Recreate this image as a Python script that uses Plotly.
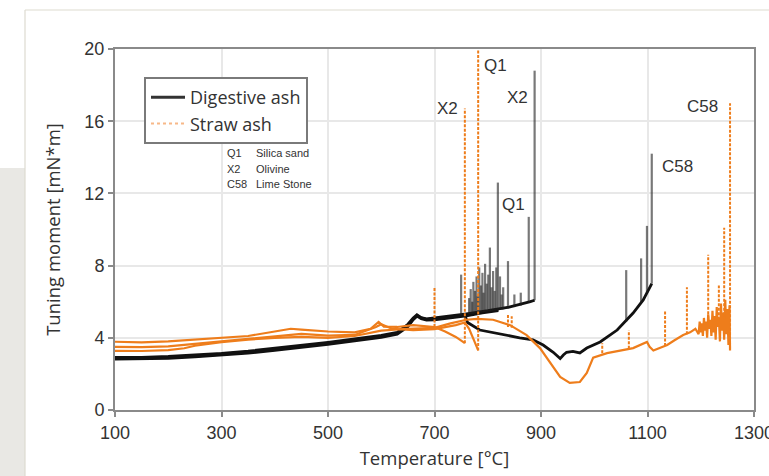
import plotly.graph_objects as go

# ---------------- data ----------------
# Digestive ash, X2 run (heating to ~888 °C)
dig_x2_T = [100, 150, 200, 250, 300, 350, 400, 450, 500, 550, 600, 630, 650, 660, 667, 675,
            685, 700, 730, 760, 800, 840, 880, 888]
dig_x2_v = [2.92, 2.92, 2.97, 3.05, 3.14, 3.26, 3.41, 3.57, 3.75, 3.94, 4.13, 4.3, 4.75, 5.1, 5.28, 5.12,
            5.05, 5.1, 5.2, 5.33, 5.5, 5.7, 6.0, 6.08]
# Digestive ash, Q1 run (heating to ~820 °C)
dig_q1_T = [100, 150, 200, 250, 300, 350, 400, 450, 500, 550, 600, 630, 650, 660, 667, 675,
            685, 700, 730, 760, 790, 820]
dig_q1_v = [2.82, 2.82, 2.86, 2.94, 3.03, 3.15, 3.3, 3.46, 3.64, 3.83, 4.03, 4.2, 4.62, 5.0, 5.2, 5.06,
            4.98, 5.0, 5.1, 5.22, 5.38, 5.5]
# Digestive ash, C58 run (heating, cooling dip, up to ~1108 °C)
dig_c58_T = [100, 150, 200, 250, 300, 350, 400, 450, 500, 550, 600, 630, 650, 660, 667, 675,
             685, 700, 730, 757, 762, 785, 823, 860, 885, 904, 923, 930, 936, 942, 948, 960,
             973, 986, 1011, 1043, 1073, 1092, 1105, 1108]
dig_c58_v = [2.87, 2.87, 2.91, 2.99, 3.09, 3.2, 3.35, 3.52, 3.7, 3.88, 4.08, 4.25, 4.68, 5.05, 5.24, 5.1,
             5.02, 5.05, 5.15, 5.26, 4.85, 4.43, 4.2, 4.0, 3.88, 3.6, 3.2, 3.0, 2.85, 3.05, 3.2, 3.25,
             3.16, 3.43, 3.77, 4.43, 5.37, 6.1, 6.8, 7.0]
# Digestive ash: spikes (temperature, base, peak)
dig_spk_T = [750, 765, 768, 771, 773, 776, 779, 781, 784, 787, 790, 792, 795, 798, 801, 804, 807,
             810, 813, 816, 819, 823, 826, 829, 838, 850, 862, 877, 888, 1060, 1088, 1099, 1108]
dig_spk_base = [5.25, 5.3, 5.3, 5.32, 5.33, 5.35, 5.36, 5.37, 5.38, 5.4, 5.41, 5.42, 5.43, 5.44,
                5.46, 5.47, 5.48, 5.5, 5.51, 5.52, 5.5, 5.55, 5.56, 5.57, 5.62, 5.7, 5.78, 5.95,
                6.08, 4.9, 5.95, 6.5, 7.0]
dig_spk_peak = [7.5, 6.2, 6.7, 6.0, 7.1, 6.6, 7.4, 6.3, 7.9, 6.9, 7.6, 6.5, 8.1, 7.0, 7.5, 9.0, 6.8,
                7.7, 6.6, 7.9, 12.6, 7.4, 6.4, 6.8, 8.25, 6.4, 6.5, 10.7, 18.8, 7.75, 8.4, 10.2, 14.2]

# Straw ash, X2 run (ends ~757 °C)
str_x2_T = [100, 150, 200, 250, 300, 350, 400, 430, 450, 500, 550, 580, 595, 605, 630, 660,
            700, 720, 740, 754, 757]
str_x2_v = [3.78, 3.75, 3.8, 3.9, 4.0, 4.1, 4.35, 4.5, 4.45, 4.35, 4.3, 4.5, 4.88, 4.62, 4.6, 4.7,
            4.6, 4.35, 4.05, 3.8, 3.7]
# Straw ash, Q1 run (ends ~782 °C)
str_q1_T = [100, 150, 200, 250, 300, 350, 400, 450, 500, 550, 590, 600, 620, 660, 700, 740,
            757, 765, 775, 782]
str_q1_v = [3.5, 3.48, 3.52, 3.66, 3.82, 3.96, 4.12, 4.22, 4.12, 4.16, 4.6, 4.75, 4.5, 4.42,
            4.48, 4.7, 4.85, 4.5, 3.8, 3.3]
# Straw ash, C58 run (up to ~1255 °C)
str_c58_T = [100, 150, 200, 230, 250, 300, 350, 400, 450, 500, 550, 600, 650, 700, 730, 760,
             780, 810, 842, 873, 898, 917, 936, 954, 973, 986, 998, 1024, 1050, 1073, 1099,
             1104, 1111, 1137, 1150, 1167, 1180, 1190, 1196, 1198, 1200, 1202, 1204, 1206, 1208,
             1210, 1212, 1214, 1216, 1218, 1220, 1222, 1224, 1226, 1228, 1230, 1232, 1234, 1236,
             1238, 1240, 1242, 1244, 1246, 1248, 1250, 1252, 1254, 1255]
str_c58_v = [3.28, 3.27, 3.32, 3.42, 3.56, 3.76, 3.9, 4.0, 4.05, 4.0, 4.1, 4.4, 4.5, 4.55, 4.8, 5.0,
             5.05, 5.0, 4.7, 4.15, 3.43, 2.6, 1.83, 1.5, 1.55, 2.05, 2.9, 3.15, 3.3, 3.43, 3.77,
             3.5, 3.3, 3.6, 3.85, 4.15, 4.3, 4.5, 4.2, 4.9, 4.3, 4.8, 4.1, 5.1, 4.4, 4.9, 4.0,
             5.3, 4.5, 5.0, 4.1, 5.5, 4.3, 5.2, 3.9, 5.7, 4.6, 5.1, 3.8, 5.9, 4.4, 5.4, 3.9, 6.1,
             4.2, 5.6, 3.6, 5.8, 3.3]
# Straw ash: spikes (temperature, base, peak)
str_spk_T = [700, 757, 782, 838, 845, 1015, 1065, 1133, 1174, 1214, 1234, 1244, 1255]
str_spk_base = [4.6, 3.7, 3.3, 4.6, 4.55, 3.15, 3.4, 3.55, 4.2, 4.8, 5.0, 5.0, 3.4]
str_spk_peak = [6.8, 16.7, 20.0, 5.3, 5.2, 3.7, 4.4, 5.5, 6.8, 8.6, 6.9, 10.1, 17.0]

# spike labels
lab_text = ["Q1", "X2", "X2", "Q1", "C58", "C58"]
lab_T = [814, 725, 855, 849, 1204, 1157]
lab_v = [19.1, 16.7, 17.3, 11.4, 16.8, 13.5]

x_ticks = [100, 300, 500, 700, 900, 1100, 1300]
y_ticks = [0, 4, 8, 12, 16, 20]

BLACK = "#111111"
ORANGE = "#ee7d1b"

fig = go.Figure()

for T, v in [(dig_q1_T, dig_q1_v), (dig_x2_T, dig_x2_v), (dig_c58_T, dig_c58_v)]:
    fig.add_trace(go.Scatter(x=T, y=v, mode="lines", line=dict(color=BLACK, width=2.8),
                             showlegend=False, hoverinfo="skip"))

sx, sy = [], []
for t, b, p in zip(dig_spk_T, dig_spk_base, dig_spk_peak):
    sx += [t, t, None]
    sy += [b, p, None]
fig.add_trace(go.Scatter(x=sx, y=sy, mode="lines", line=dict(color="rgba(30,30,30,0.6)", width=2.2),
                         showlegend=False, hoverinfo="skip"))

for T, v in [(str_x2_T, str_x2_v), (str_q1_T, str_q1_v), (str_c58_T, str_c58_v)]:
    fig.add_trace(go.Scatter(x=T, y=v, mode="lines", line=dict(color=ORANGE, width=2.2),
                             showlegend=False, hoverinfo="skip"))

ox, oy = [], []
for t, b, p in zip(str_spk_T, str_spk_base, str_spk_peak):
    ox += [t, t, None]
    oy += [b, p, None]
fig.add_trace(go.Scatter(x=ox, y=oy, mode="lines",
                         line=dict(color=ORANGE, width=2, dash="3px,1.5px"),
                         showlegend=False, hoverinfo="skip"))

# legend entries
fig.add_trace(go.Scatter(x=[None], y=[None], mode="lines", name="Digestive ash",
                         line=dict(color="#333333", width=3)))
fig.add_trace(go.Scatter(x=[None], y=[None], mode="lines", name="Straw ash",
                         line=dict(color="#f7b888", width=2, dash="dot")))

for t, T, v in zip(lab_text, lab_T, lab_v):
    fig.add_annotation(x=T, y=v, text=t, showarrow=False,
                       font=dict(family="Liberation Sans, Arial", size=17, color="#333333"))

# legend-side key
key_codes = ["Q1", "X2", "C58"]
key_names = ["Silica sand", "Olivine", "Lime Stone"]
for i, (c, n) in enumerate(zip(key_codes, key_names)):
    yp = (410 - (153 + i * 15.5)) / 361
    fig.add_annotation(x=(225 - 115) / 639, y=yp, xref="paper", yref="paper", text=c,
                       showarrow=False, xanchor="left", yanchor="middle",
                       font=dict(family="Liberation Sans, Arial", size=11, color="#333333"))
    fig.add_annotation(x=(254 - 115) / 639, y=yp, xref="paper", yref="paper", text=n,
                       showarrow=False, xanchor="left", yanchor="middle",
                       font=dict(family="Liberation Sans, Arial", size=11, color="#333333"))

# page decoration: grey side panel and frame lines
fig.add_shape(type="rect", xref="paper", yref="paper",
              x0=(0 - 115) / 639, x1=(25 - 115) / 639, y0=(410 - 476) / 361, y1=(410 - 168) / 361,
              fillcolor="#e9e8e4", line=dict(width=0), layer="below")
fig.add_shape(type="line", xref="paper", yref="paper",
              x0=(25 - 115) / 639, x1=(769 - 115) / 639, y0=(410 - 10) / 361, y1=(410 - 10) / 361,
              line=dict(color="#dddbd0", width=1.2))
fig.add_shape(type="line", xref="paper", yref="paper",
              x0=(25 - 115) / 639, x1=(25 - 115) / 639, y0=(410 - 10) / 361, y1=(410 - 476) / 361,
              line=dict(color="#dddbd0", width=1.2))

axis_common = dict(showline=True, linecolor="#8a8a8a", linewidth=2, mirror=True,
                   showgrid=True, gridcolor="#e8e8e8", gridwidth=1.5, zeroline=False,
                   ticks="outside", ticklen=5, tickcolor="#8a8a8a", tickwidth=1.5,
                   ticklabeloverflow="allow",
                   tickfont=dict(family="Liberation Sans, Arial", size=18, color="#333333"))

fig.update_xaxes(range=[100, 1300], tickvals=x_ticks, **axis_common,
                 title=dict(text="Temperature [°C]", standoff=10,
                            font=dict(family="Open Sans", size=18.5, color="#333333")))
fig.update_yaxes(range=[0, 20], tickvals=y_ticks, **axis_common,
                 title=dict(text="Tuning moment [mN*m]", standoff=19,
                            font=dict(family="Open Sans", size=18.5, color="#333333")))

fig.update_layout(
    width=769, height=476,
    margin=dict(l=115, r=15, t=49, b=66, autoexpand=False),
    paper_bgcolor="white", plot_bgcolor="white",
    showlegend=True,
    legend=dict(x=(144 - 115) / 639, y=(410 - 77) / 361, xanchor="left", yanchor="top",
                bgcolor="white", bordercolor="#7a7a7a", borderwidth=2,
                font=dict(family="Open Sans", size=18, color="#333333"),
                tracegroupgap=0, itemwidth=34),
)

fig.write_html("out.html", config={"displayModeBar": False},
               post_script="document.body.style.margin='0px';")
